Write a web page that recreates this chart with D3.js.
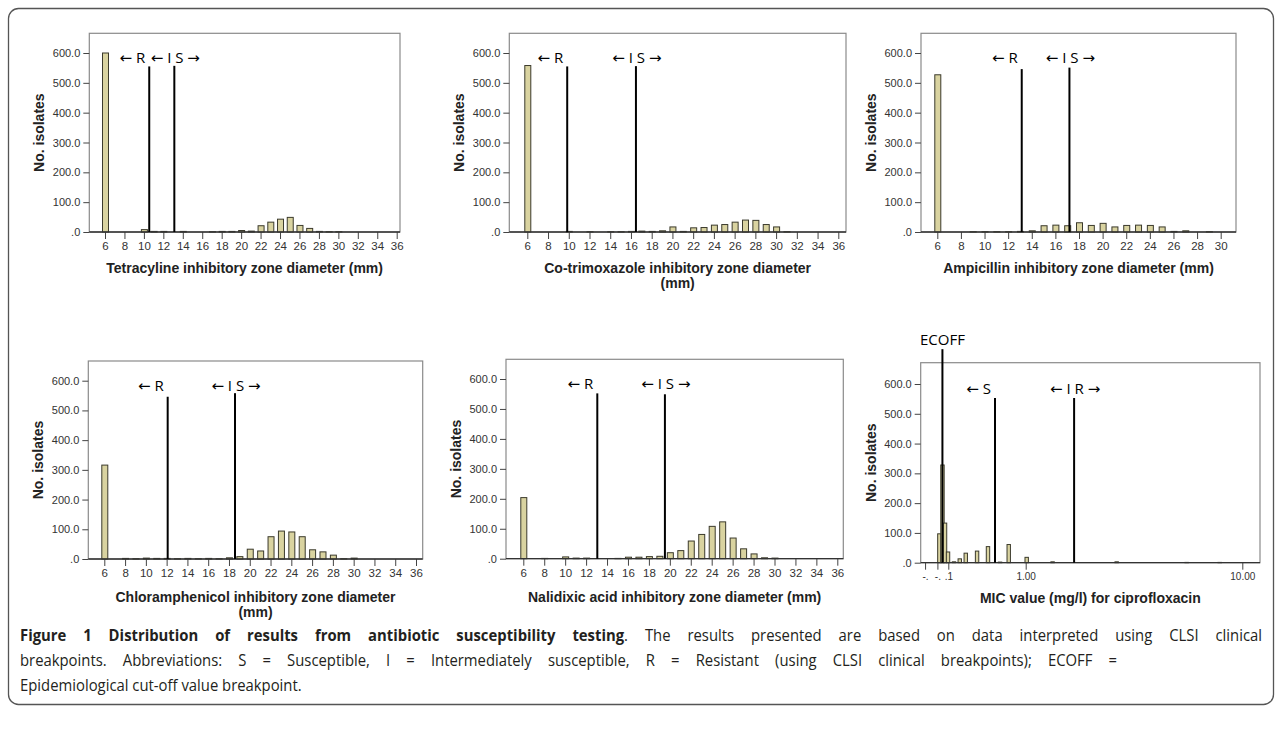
<!DOCTYPE html>
<html>
<head>
<meta charset="utf-8">
<script src="https://cdn.jsdelivr.net/npm/d3@7"></script>
<style>
body { margin: 0; background: #fff; }
</style>
</head>
<body>
<div id="graph"></div>
<script>
// counts (zone diameter in mm, MIC in mg/l)
var tetraDiam = [6, 10, 11, 12, 14, 17, 18, 19, 20, 21, 22, 23, 24, 25, 26, 27, 28, 29, 30];
var tetraCount = [600, 8, 2, 2, 2, 1, 2, 2, 5, 3, 21, 33, 43, 49, 22, 12, 2, 1, 1];

var cotrimDiam = [6, 10, 12, 14, 15, 16, 17, 18, 19, 20, 21, 22, 23, 24, 25, 26, 27, 28, 29, 30, 31];
var cotrimCount = [558, 2, 1, 1, 1, 2, 3, 2, 4, 17, 2, 14, 15, 23, 25, 33, 40, 39, 25, 17, 1];

var ampDiam = [6, 9, 10, 11, 12, 13, 14, 15, 16, 17, 18, 19, 20, 21, 22, 23, 24, 25, 26, 27, 29];
var ampCount = [527, 1, 1, 1, 1, 2, 4, 21, 23, 21, 31, 22, 29, 17, 22, 23, 22, 17, 2, 4, 1];

var chlorDiam = [6, 8, 9, 10, 11, 12, 13, 14, 15, 16, 17, 18, 19, 20, 21, 22, 23, 24, 25, 26, 27, 28, 29, 30];
var chlorCount = [316, 2, 1, 3, 2, 2, 1, 2, 1, 2, 1, 4, 8, 33, 27, 75, 94, 91, 75, 31, 24, 13, 1, 3];

var nalDiam = [6, 8, 10, 11, 12, 15, 16, 17, 18, 19, 20, 21, 22, 23, 24, 25, 26, 27, 28, 29, 30];
var nalCount = [204, 1, 6, 2, 2, 1, 5, 5, 7, 8, 20, 27, 59, 81, 108, 123, 69, 33, 16, 3, 2];

var ciproMic = [0.053, 0.065, 0.076, 0.090, 0.122, 0.158, 0.201, 0.298, 0.412, 0.562, 0.686, 0.987, 1.53, 3.46, 6.59, 8.46];
var ciproCount = [97, 328, 133, 36, 3, 13, 32, 39, 54, 2, 61, 18, 3, 3, 1, 1];

// breakpoint lines: position and height (in isolates)
var tetraBreaks = [10.55, 13.13], tetraBreakTop = [555, 557];
var cotrimBreaks = [9.85, 16.48], cotrimBreakTop = [555, 556];
var ampBreaks = [13.15, 17.19], ampBreakTop = [546, 551];
var chlorBreaks = [12.1, 18.58], chlorBreakTop = [546, 558];
var nalBreaks = [13.07, 19.53], nalBreakTop = [552, 549];
var ciproBreaks = [0.518, 2.13], ciproBreakTop = [553, 553];
var ciproEcoff = 0.072, ciproEcoffTop = 717;

var breakLabels = ["\u2190 R", "\u2190 I S \u2192"];
var ciproBreakLabels = ["\u2190 S", "\u2190 I R \u2192"];

// tick labels
var yTicks = [0, 100, 200, 300, 400, 500, 600];
var yTickLabels = [".0", "100.0", "200.0", "300.0", "400.0", "500.0", "600.0"];
var diamTicks36 = [6, 8, 10, 12, 14, 16, 18, 20, 22, 24, 26, 28, 30, 32, 34, 36];
var diamTicks30 = [6, 8, 10, 12, 14, 16, 18, 20, 22, 24, 26, 28, 30];
var micTicks = [0.0176, 0.052, 0.1, 1, 10];
var micTickLabels = ["-.", "-.", ".1", "1.00", "10.00"];

var captionLines = [
  ["Figure 1 Distribution of results from antibiotic susceptibility testing", ". The results presented are based on data interpreted using CLSI clinical"],
  ["", "breakpoints. Abbreviations: S = Susceptible, I = Intermediately susceptible, R = Resistant (using CLSI clinical breakpoints); ECOFF ="],
  ["", "Epidemiological cut-off value breakpoint."]
];

var svg = d3.select("#graph")
  .append("svg")
  .attr("width", 1282)
  .attr("height", 730);

svg.append("rect")
  .attr("x", 8.5).attr("y", 8.5)
  .attr("width", 1265).attr("height", 696)
  .attr("rx", 10)
  .style("fill", "none")
  .style("stroke", "#555")
  .style("stroke-width", 1.3);

var panels = [
  {box: [89.3, 33.3, 400, 232], y600: 53, xs: d3.scaleLinear().domain([6, 36]).range([105, 396.7]),
   ticks: diamTicks36, xv: tetraDiam, cnt: tetraCount, br: tetraBreaks, brTop: tetraBreakTop, lab: breakLabels,
   title: ["Tetracyline inhibitory zone diameter (mm)"], ty: 272.5},
  {box: [509.3, 33.3, 846, 232], y600: 53, xs: d3.scaleLinear().domain([6, 36]).range([527.3, 838.3]),
   ticks: diamTicks36, xv: cotrimDiam, cnt: cotrimCount, br: cotrimBreaks, brTop: cotrimBreakTop, lab: breakLabels,
   title: ["Co-trimoxazole inhibitory zone diameter", "(mm)"], ty: 272.5},
  {box: [921, 33.3, 1236, 232], y600: 53, xs: d3.scaleLinear().domain([6, 30]).range([937.3, 1220.7]),
   ticks: diamTicks30, xv: ampDiam, cnt: ampCount, br: ampBreaks, brTop: ampBreakTop, lab: breakLabels,
   title: ["Ampicillin inhibitory zone diameter (mm)"], ty: 272.5},
  {box: [88.3, 361, 422.7, 559], y600: 380.7, xs: d3.scaleLinear().domain([6, 36]).range([104.3, 416]),
   ticks: diamTicks36, xv: chlorDiam, cnt: chlorCount, br: chlorBreaks, brTop: chlorBreakTop, lab: breakLabels,
   title: ["Chloramphenicol inhibitory zone diameter", "(mm)"], ty: 602},
  {box: [506, 359.3, 843.3, 558.7], y600: 379, xs: d3.scaleLinear().domain([6, 36]).range([523.3, 837.3]),
   ticks: diamTicks36, xv: nalDiam, cnt: nalCount, br: nalBreaks, brTop: nalBreakTop, lab: breakLabels,
   title: ["Nalidixic acid inhibitory zone diameter (mm)"], ty: 602},
  {box: [920.7, 362.7, 1260, 562.7], y600: 384, xs: d3.scalePow().exponent(0.447).domain([0.1, 10]).range([948.3, 1242.3]),
   ticks: micTicks, tickLabels: micTickLabels, xv: ciproMic, cnt: ciproCount, br: ciproBreaks, brTop: ciproBreakTop, lab: ciproBreakLabels,
   title: ["MIC value (mg/l) for ciprofloxacin"], ty: 603, narrow: true, ecoff: true}
];

panels.forEach(drawPanel);

function drawPanel(p) {
  var left = p.box[0], top = p.box[1], right = p.box[2], base = p.box[3];
  var x = p.xs;
  var y = d3.scaleLinear().domain([0, 600]).range([base, p.y600]);
  var g = svg.append("g");

  g.append("rect")
    .attr("x", left).attr("y", top)
    .attr("width", right - left).attr("height", base - top)
    .style("fill", "#fff")
    .style("stroke", "#8a8a8a")
    .style("stroke-width", 1.2);

  // bars
  var bw = p.narrow ? 3.4 : 6;
  var off = p.narrow ? 0 : -2.5;
  g.selectAll("rect.bar")
    .data(p.xv.map(function(v, i) { return {v: v, n: p.cnt[i]}; }))
    .enter().append("rect")
    .attr("class", "bar")
    .attr("x", function(d) { return x(d.v) + off; })
    .attr("y", function(d) { return y(d.n); })
    .attr("width", bw)
    .attr("height", function(d) { return base - y(d.n); })
    .style("fill", "#d9d3a0")
    .style("stroke", "#3b3a2c")
    .style("stroke-width", 1);

  // y axis
  var yAxis = d3.axisLeft(y).tickValues(yTicks).tickSize(6)
    .tickFormat(function(d, i) { return yTickLabels[i]; });
  var ya = g.append("g").attr("transform", "translate(" + left + ",0)").call(yAxis);
  ya.select(".domain").remove();
  ya.selectAll("line").style("stroke", "#444");
  ya.selectAll("text").style("font-family", "Liberation Sans, Arial, sans-serif")
    .style("font-size", "11px").style("fill", "#333");

  // x axis
  var xAxis = d3.axisBottom(x).tickValues(p.ticks).tickSize(7)
    .tickFormat(function(d, i) { return p.tickLabels ? p.tickLabels[i] : d; });
  var xa = g.append("g").attr("transform", "translate(0," + base + ")").call(xAxis);
  xa.select(".domain").remove();
  xa.selectAll("line").style("stroke", "#444");
  xa.selectAll("text").style("font-family", "Liberation Sans, Arial, sans-serif")
    .style("font-size", p.narrow ? "10px" : "11.5px").style("fill", "#333");

  g.append("line")
    .attr("x1", left).attr("x2", right)
    .attr("y1", base).attr("y2", base)
    .style("stroke", "#333").style("stroke-width", 1.3);

  // breakpoint lines
  p.br.forEach(function(b, i) {
    g.append("line")
      .attr("x1", x(b)).attr("x2", x(b))
      .attr("y1", y(p.brTop[i])).attr("y2", base)
      .style("stroke", "#000").style("stroke-width", 2);
  });
  var ly = p.y600 + 10;
  g.append("text")
    .attr("x", x(p.br[0]) - 4).attr("y", ly)
    .attr("text-anchor", "end")
    .attr("class", "brk")
    .text(p.lab[0]);
  g.append("text")
    .attr("x", x(p.br[1]) + 1).attr("y", ly)
    .attr("text-anchor", "middle")
    .attr("class", "brk")
    .text(p.lab[1]);

  if (p.ecoff) {
    g.append("line")
      .attr("x1", x(ciproEcoff)).attr("x2", x(ciproEcoff))
      .attr("y1", y(ciproEcoffTop)).attr("y2", base)
      .style("stroke", "#000").style("stroke-width", 2);
    g.append("text")
      .attr("x", x(ciproEcoff)).attr("y", y(ciproEcoffTop) - 4)
      .attr("text-anchor", "middle")
      .attr("class", "brk")
      .text("ECOFF");
  }

  // axis titles
  g.append("text")
    .attr("transform", "translate(" + (left - 50) + "," + ((top + base) / 2) + ") rotate(-90)")
    .attr("text-anchor", "middle")
    .attr("dy", "0.35em")
    .attr("class", "ttl")
    .text("No. isolates");
  p.title.forEach(function(t, i) {
    g.append("text")
      .attr("x", (left + right) / 2).attr("y", p.ty + i * 15)
      .attr("text-anchor", "middle")
      .attr("class", "ttl")
      .text(t);
  });
}

svg.selectAll("text.brk")
  .style("font-family", "Open Sans, DejaVu Sans, sans-serif")
  .style("font-size", "15px")
  .style("fill", "#000");
svg.selectAll("text.ttl")
  .style("font-family", "Liberation Sans, Arial, sans-serif")
  .style("font-size", "14px")
  .style("font-weight", "bold")
  .style("fill", "#222");

// caption, slightly condensed; first two lines fitted to width with word spacing
var capY = [641, 666, 691];
var capW = [1242, 1097, 0];
var capScale = 0.9;
var cap = svg.append("g").attr("transform", "translate(20,0) scale(" + capScale + ",1)");
captionLines.forEach(function(l, i) {
  var t = cap.append("text")
    .attr("x", 0).attr("y", capY[i])
    .style("font-family", "Open Sans, sans-serif")
    .style("font-size", "16.5px")
    .style("fill", "#231f20");
  if (l[0]) t.append("tspan").style("font-weight", "bold").text(l[0]);
  t.append("tspan").text(l[1]);
  if (capW[i]) {
    var natural = t.node().getComputedTextLength();
    var spaces = (l[0] + l[1]).split(" ").length - 1;
    t.style("word-spacing", ((capW[i] / capScale - natural) / spaces) + "px");
  }
});
</script>
</body>
</html>
